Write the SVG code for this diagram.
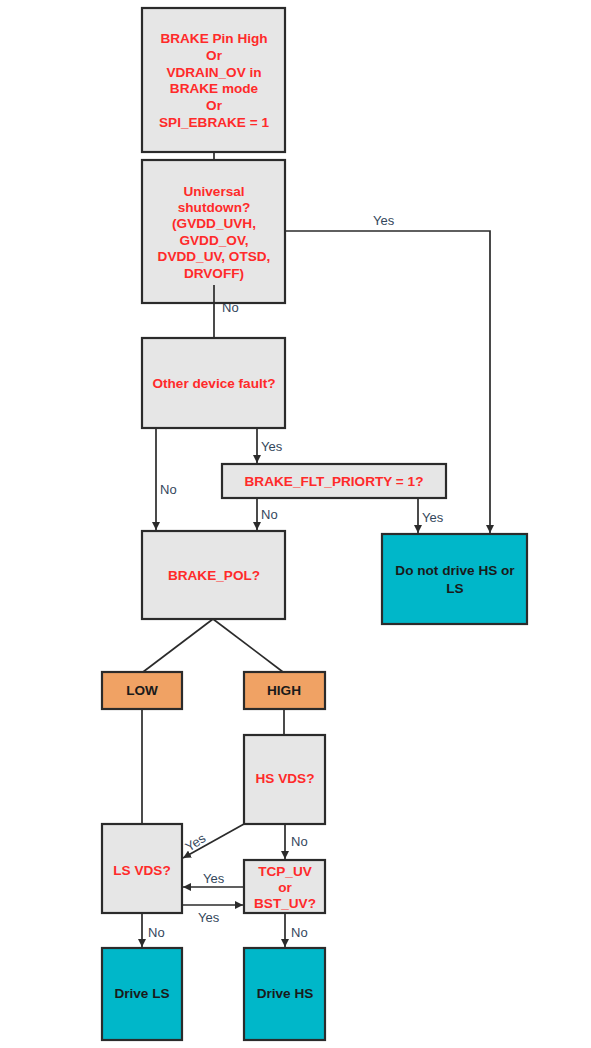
<svg xmlns="http://www.w3.org/2000/svg" width="591" height="1048" viewBox="0 0 591 1048">
<style>
.q{fill:#e6e6e6;stroke:#2b2b2b;stroke-width:2.2}
.t{fill:#00b7c9;stroke:#2b2b2b;stroke-width:2.2}
.o{fill:#f0a264;stroke:#2b2b2b;stroke-width:2.2}
.rt{font-family:"Liberation Sans",Arial,sans-serif;font-weight:bold;font-size:13.6px;fill:#ff2a2a;text-anchor:middle}
.bt{font-family:"Liberation Sans",Arial,sans-serif;font-weight:bold;font-size:13.6px;fill:#1a1a1a;text-anchor:middle}
.lb{font-family:"Liberation Sans",Arial,sans-serif;font-size:13px;fill:#34475c}
.c{fill:none;stroke:#2b2b2b;stroke-width:1.7}
</style>
<defs>
<marker id="ah" viewBox="0 0 10 10" refX="10" refY="5" markerWidth="8" markerHeight="8" orient="auto" markerUnits="userSpaceOnUse">
<path d="M0,0 L10,5 L0,10 z" fill="#2b2b2b"/>
</marker>
</defs>
<rect width="591" height="1048" fill="#ffffff"/>
<g id="connectors">
<line class="c" x1="214" y1="152" x2="214" y2="160"/>
<polyline class="c" points="285,231 490,231 490,533" marker-end="url(#ah)"/>
<line class="c" x1="214" y1="285" x2="214" y2="338"/>
<line class="c" x1="156" y1="428" x2="156" y2="530" marker-end="url(#ah)"/>
<line class="c" x1="257" y1="428" x2="257" y2="463" marker-end="url(#ah)"/>
<line class="c" x1="257" y1="498" x2="257" y2="530" marker-end="url(#ah)"/>
<line class="c" x1="418" y1="498" x2="418" y2="533" marker-end="url(#ah)"/>
<line class="c" x1="213" y1="619" x2="143" y2="672"/>
<line class="c" x1="213" y1="619" x2="283" y2="672"/>
<line class="c" x1="142" y1="709" x2="142" y2="824"/>
<line class="c" x1="284" y1="709" x2="284" y2="735"/>
<line class="c" x1="244" y1="824" x2="183" y2="858" marker-end="url(#ah)"/>
<line class="c" x1="285" y1="824" x2="285" y2="859" marker-end="url(#ah)"/>
<line class="c" x1="244" y1="887" x2="183" y2="887" marker-end="url(#ah)"/>
<line class="c" x1="182" y1="905" x2="243" y2="905" marker-end="url(#ah)"/>
<line class="c" x1="142" y1="913" x2="142" y2="947" marker-end="url(#ah)"/>
<line class="c" x1="285" y1="913" x2="285" y2="947" marker-end="url(#ah)"/>
<text class="lb" x="373" y="225">Yes</text>
<text class="lb" x="222" y="312">No</text>
<text class="lb" x="261" y="451">Yes</text>
<text class="lb" x="160" y="494">No</text>
<text class="lb" x="261" y="519">No</text>
<text class="lb" x="422" y="522">Yes</text>
<text class="lb" x="189" y="852" transform="rotate(-33 189 852)">Yes</text>
<text class="lb" x="291" y="846">No</text>
<text class="lb" x="203" y="883">Yes</text>
<text class="lb" x="198" y="922">Yes</text>
<text class="lb" x="148" y="937">No</text>
<text class="lb" x="291" y="937">No</text>
</g>
<g id="n1"><rect class="q" x="142" y="8" width="143" height="144"/>
<text class="rt" x="214" y="43">BRAKE Pin High</text>
<text class="rt" x="214" y="60">Or</text>
<text class="rt" x="214" y="77">VDRAIN_OV in</text>
<text class="rt" x="214" y="93">BRAKE mode</text>
<text class="rt" x="214" y="110">Or</text>
<text class="rt" x="214" y="127">SPI_EBRAKE = 1</text></g>
<g id="n2"><rect class="q" x="142" y="160" width="143" height="143"/>
<text class="rt" x="214" y="196">Universal</text>
<text class="rt" x="214" y="212">shutdown?</text>
<text class="rt" x="214" y="228">(GVDD_UVH,</text>
<text class="rt" x="214" y="245">GVDD_OV,</text>
<text class="rt" x="214" y="261">DVDD_UV, OTSD,</text>
<text class="rt" x="214" y="278">DRVOFF)</text></g>
<line class="c" x1="214" y1="285" x2="214" y2="303"/>
<g id="n3"><rect class="q" x="142" y="338" width="143" height="90"/>
<text class="rt" x="214" y="388">Other device fault?</text></g>
<g id="n4"><rect class="q" x="222" y="464" width="224" height="34"/>
<text class="rt" x="334" y="486">BRAKE_FLT_PRIORTY = 1?</text></g>
<g id="n5"><rect class="q" x="142" y="531" width="143" height="88"/>
<text class="rt" x="214" y="580">BRAKE_POL?</text></g>
<g id="n6"><rect class="t" x="382" y="534" width="145" height="90"/>
<text class="bt" x="455" y="575">Do not drive HS or</text>
<text class="bt" x="455" y="593">LS</text></g>
<g id="n7"><rect class="o" x="102" y="672" width="80" height="37"/>
<text class="bt" x="142" y="695">LOW</text></g>
<g id="n8"><rect class="o" x="244" y="672" width="81" height="37"/>
<text class="bt" x="284" y="695">HIGH</text></g>
<g id="n9"><rect class="q" x="244" y="735" width="81" height="89"/>
<text class="rt" x="285" y="783">HS VDS?</text></g>
<g id="n10"><rect class="q" x="102" y="824" width="80" height="89"/>
<text class="rt" x="142" y="875">LS VDS?</text></g>
<g id="n11"><rect class="q" x="244" y="860" width="81" height="53"/>
<text class="rt" x="285" y="876">TCP_UV</text>
<text class="rt" x="285" y="892">or</text>
<text class="rt" x="285" y="908">BST_UV?</text></g>
<g id="n12"><rect class="t" x="102" y="948" width="80" height="92"/>
<text class="bt" x="142" y="998">Drive LS</text></g>
<g id="n13"><rect class="t" x="244" y="948" width="81" height="92"/>
<text class="bt" x="285" y="998">Drive HS</text></g>
</svg>
